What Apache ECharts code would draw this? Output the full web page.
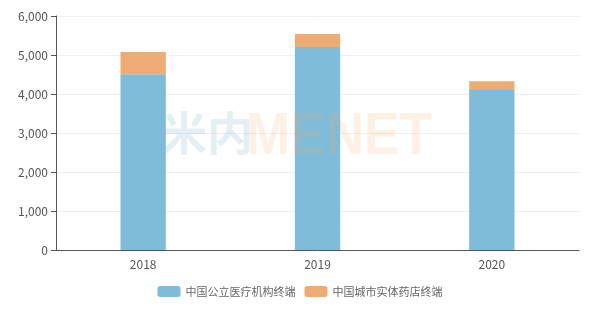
<!DOCTYPE html>
<html><head><meta charset="utf-8">
<script src="https://cdn.jsdelivr.net/npm/echarts@6/dist/echarts.min.js"></script>
<style>html,body{margin:0;padding:0;background:#fff}#c{width:600px;height:312px}</style>
</head><body><div id="c"></div>
<script>
const categories = ['2018', '2019', '2020'];
const publicMedical = [4505, 5205, 4103];
const retailPharmacy = [572, 333, 222];
const seriesNames = ['中国公立医疗机构终端', '中国城市实体药店终端'];

const chart = echarts.init(document.getElementById('c'));
chart.setOption({
  animation: false,
  textStyle: { fontFamily: '"Noto Sans CJK SC", "Noto Sans", sans-serif' },
  grid: { left: 56, right: 21, top: 16, bottom: 62 },
  legend: {
    bottom: 10, left: 'center', itemWidth: 23, itemHeight: 11, itemGap: 9,
    textStyle: { color: '#666', fontSize: 11 },
    data: seriesNames
  },
  xAxis: {
    type: 'category', data: categories,
    axisLine: { lineStyle: { color: '#555' } },
    axisTick: { lineStyle: { color: '#555' } },
    axisLabel: { color: '#555', fontSize: 12, margin: 8 }
  },
  yAxis: {
    type: 'value', min: 0, max: 6000, interval: 1000,
    axisLine: { show: true, lineStyle: { color: '#555' } },
    axisTick: { show: true, lineStyle: { color: '#555' } },
    axisLabel: { color: '#555', fontSize: 12, formatter: v => v.toLocaleString('en-US') },
    splitLine: { lineStyle: { color: '#eee' } }
  },
  graphic: [
    { type: 'text', left: 161, top: 110, z: 100, silent: true,
      style: { text: '米内', fill: 'rgba(130,180,200,0.22)', font: 'bold 46px "Noto Sans CJK SC"' } },
    { type: 'text', x: 246, y: 108, scaleX: 0.9, z: 100, silent: true,
      style: { text: 'MENET', fill: 'rgba(245,170,100,0.17)', font: 'bold 59px "Liberation Sans"' } }
  ],
  series: [
    { name: seriesNames[0], type: 'bar', stack: 'a', data: publicMedical, barWidth: '26%',
      itemStyle: { color: '#7fbcd9' } },
    { name: seriesNames[1], type: 'bar', stack: 'a', data: retailPharmacy, barWidth: '26%',
      itemStyle: { color: '#edac73' } }
  ]
});
</script></body></html>
